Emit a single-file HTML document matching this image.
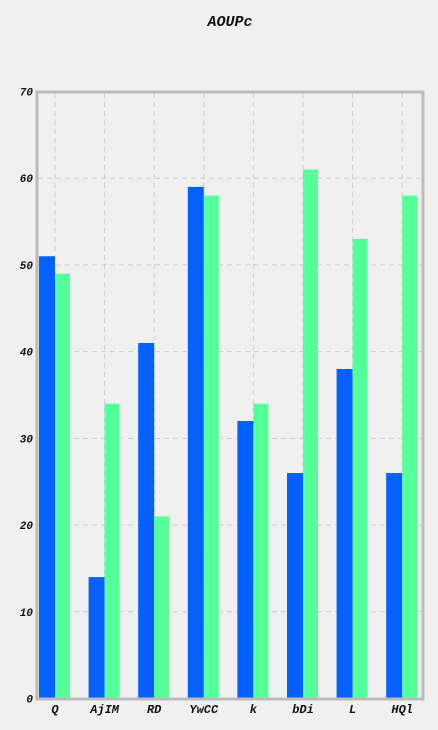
<!DOCTYPE html>
<html><head><meta charset="utf-8"><style>
html,body{margin:0;padding:0;background:#f0f0f0;width:438px;height:730px;overflow:hidden;}
svg{display:block;}
svg text{font-family:"Liberation Mono",monospace;font-weight:bold;font-style:italic;fill:#111;}
</style></head><body>
<svg width="438" height="730">
<text x="230" y="26" text-anchor="middle" font-size="15">AOUPc</text>
<g id="grid"></g>
<g id="bars"></g>
<rect x="37" y="92" width="386" height="607" fill="none" stroke="#bbb" stroke-width="3"/>
<g id="labels"></g>
</svg>
<script>
const categories=["Q","AjIM","RD","YwCC","k","bDi","L","HQl"];
const seriesA=[51,14,41,59,32,26,38,26];
const seriesB=[49,34,21,58,34,61,53,58];
const yTicks=[0,10,20,30,40,50,60,70];
const ns="http://www.w3.org/2000/svg";
const y0=698.5,y70=91.5;
const y=v=>y0-(v/70)*(y0-y70);
const cx=i=>55+i*49.6;
const g=document.getElementById('grid'),b=document.getElementById('bars'),l=document.getElementById('labels');
function mk(t,a,p){const e=document.createElementNS(ns,t);for(const k in a)e.setAttribute(k,a[k]);p.appendChild(e);return e;}
yTicks.forEach(v=>{
 if(v>0&&v<70){const ln=mk('line',{x1:38,x2:422,y1:y(v),y2:y(v),stroke:'#ccc','stroke-dasharray':'5,4'},g);
 
 }
 const t=mk('text',{x:33,y:y(v)+4,'text-anchor':'end','font-size':'11'},l);t.textContent=v;
 
 
});
categories.forEach((c,i)=>{
 const ln=mk('line',{x1:cx(i),x2:cx(i),y1:93,y2:698,stroke:'#ccc','stroke-dasharray':'5,4'},g);
 
 
 const r1=mk('rect',{x:cx(i)-16,y:y(seriesA[i]),width:16,height:y0-y(seriesA[i]),fill:'#0560ff'},b);
 
 
 const r2=mk('rect',{x:cx(i),y:y(seriesB[i]),width:15,height:y0-y(seriesB[i]),fill:'#55ff99'},b);
 
 
 const t=mk('text',{x:cx(i),y:713,'text-anchor':'middle','font-size':'12'},l);t.textContent=c;
 
 
});
</script>
</body></html>
